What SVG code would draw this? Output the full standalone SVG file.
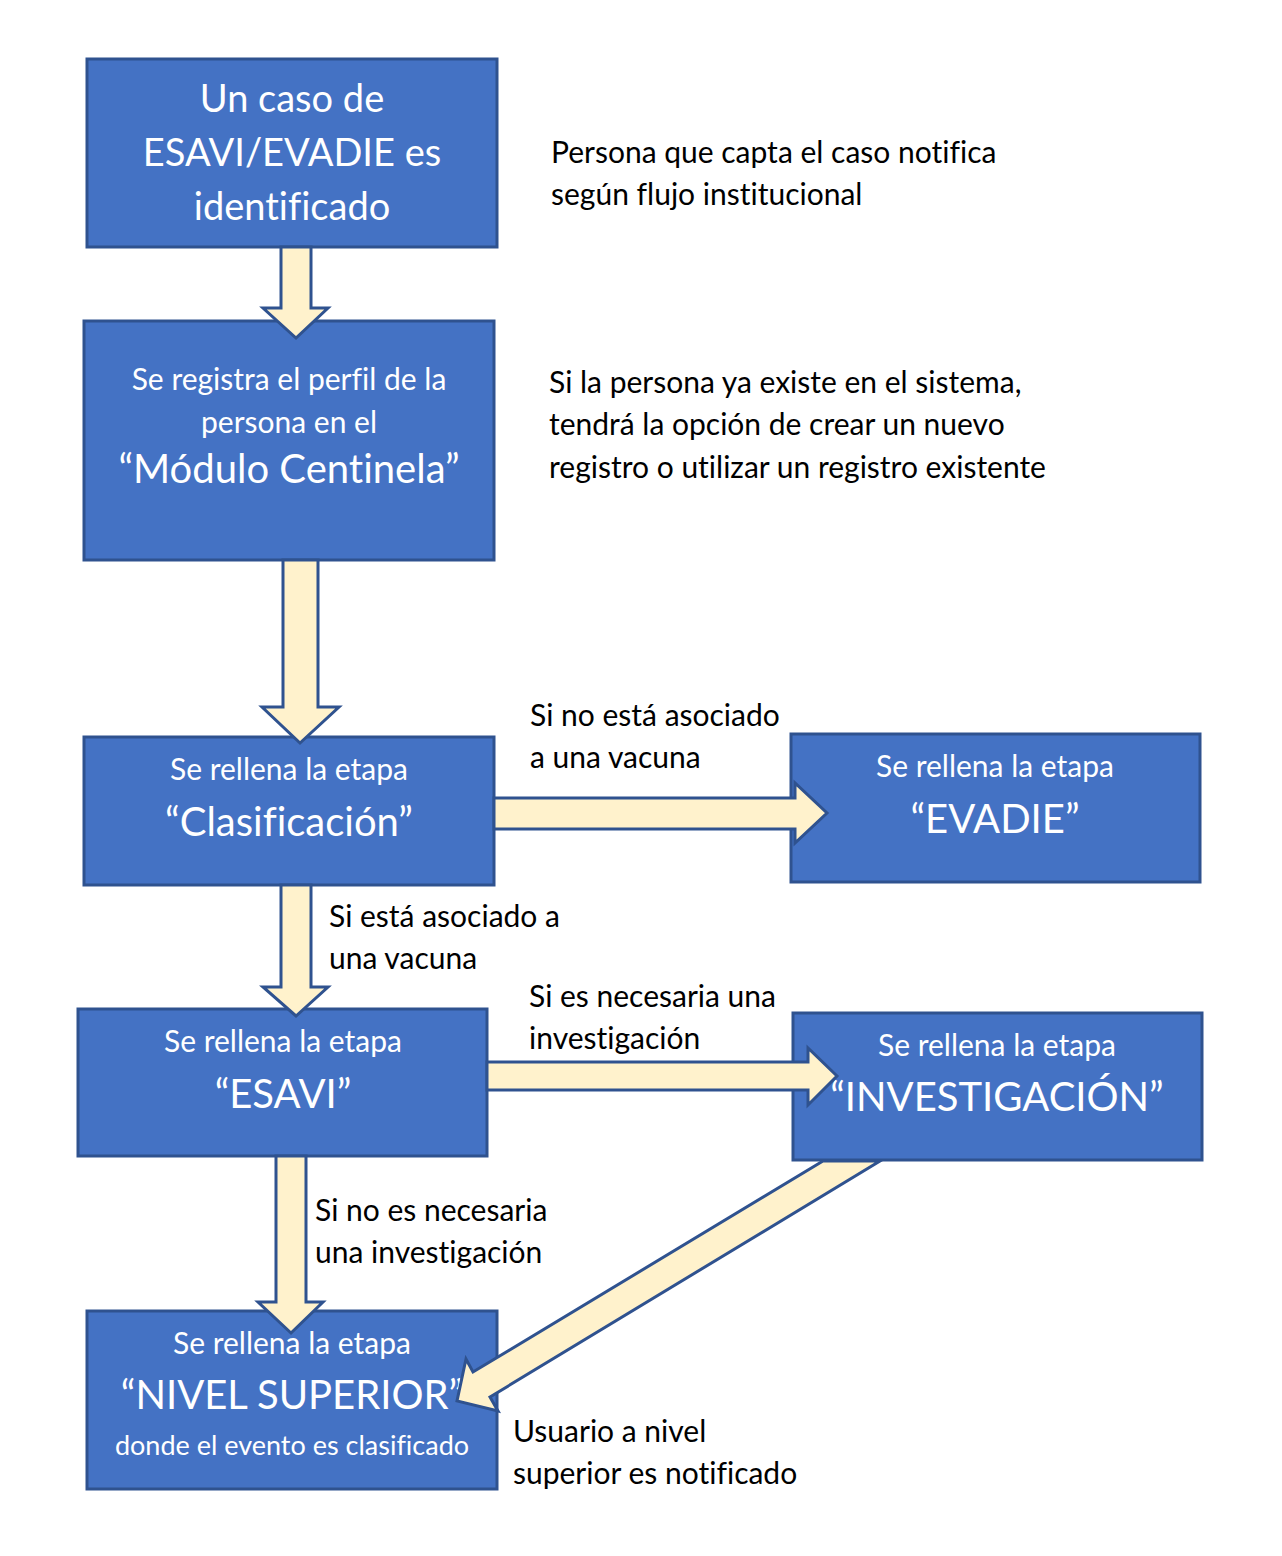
<svg xmlns="http://www.w3.org/2000/svg" width="1282" height="1556" viewBox="0 0 1282 1556">
<style>
.box{fill:#4472C4;stroke:#2F528F;stroke-width:3}
.arr{fill:#FFF2CC;stroke:#2F528F;stroke-width:3;stroke-linejoin:miter}
text{font-variant-ligatures:none;font-family:Lato,"Liberation Sans",sans-serif}
.w{fill:#FFFFFF;text-anchor:middle}
.s{font-size:30px}
.t{font-size:38px}
.l{font-size:40px}
.xs{font-size:27px}
.lab{fill:#000000;font-size:30px}
</style>
<rect width="1282" height="1556" fill="#FFFFFF"/>
<g id="n1">
<rect class="box" x="87" y="59" width="410" height="188"/>
<text class="w t" x="292" y="112">Un caso de</text>
<text class="w t" x="292" y="166">ESAVI/EVADIE es</text>
<text class="w t" x="292" y="220">identificado</text>
</g>
<g id="n2">
<rect class="box" x="84" y="321" width="410" height="239"/>
<text class="w s" x="289" y="390">Se registra el perfil de la</text>
<text class="w s" x="289" y="433">persona en el</text>
<text class="w l" x="289" y="483">“Módulo Centinela”</text>
</g>
<g id="n3">
<rect class="box" x="84" y="737" width="410" height="148"/>
<text class="w s" x="289" y="780">Se rellena la etapa</text>
<text class="w l" x="289" y="836">“Clasificación”</text>
</g>
<g id="n4">
<rect class="box" x="791" y="734" width="409" height="148"/>
<text class="w s" x="995" y="777">Se rellena la etapa</text>
<text class="w l" x="995" y="833">“EVADIE”</text>
</g>
<g id="n5">
<rect class="box" x="78" y="1009" width="409" height="147"/>
<text class="w s" x="283" y="1052">Se rellena la etapa</text>
<text class="w l" x="283" y="1108">“ESAVI”</text>
</g>
<g id="n6">
<rect class="box" x="793" y="1013" width="409" height="147"/>
<text class="w s" x="997" y="1056">Se rellena la etapa</text>
<text class="w l" x="997" y="1111">“INVESTIGACIÓN”</text>
</g>
<g id="n7">
<rect class="box" x="87" y="1311" width="410" height="178"/>
<text class="w s" x="292" y="1354">Se rellena la etapa</text>
<text class="w l" x="292" y="1409">“NIVEL SUPERIOR”</text>
<text class="w xs" x="292" y="1455">donde el evento es clasificado</text>
</g>
<g id="labels">
<text class="lab" x="551" y="163">Persona que capta el caso notifica</text>
<text class="lab" x="551" y="205">según flujo institucional</text>
<text class="lab" x="549" y="393">Si la persona ya existe en el sistema,</text>
<text class="lab" x="549" y="435">tendrá la opción de crear un nuevo</text>
<text class="lab" x="549" y="478">registro o utilizar un registro existente</text>
<text class="lab" x="530" y="726">Si no está asociado</text>
<text class="lab" x="530" y="768">a una vacuna</text>
<text class="lab" x="329" y="927">Si está asociado a</text>
<text class="lab" x="329" y="969">una vacuna</text>
<text class="lab" x="529" y="1007">Si es necesaria una</text>
<text class="lab" x="529" y="1049">investigación</text>
<text class="lab" x="315" y="1221">Si no es necesaria</text>
<text class="lab" x="315" y="1263">una investigación</text>
<text class="lab" x="513" y="1442">Usuario a nivel</text>
<text class="lab" x="513" y="1484">superior es notificado</text>
</g>
<g id="connectors">
<polygon class="arr" points="281,247 311,247 311,308 328,308 296,338 263,308 281,308"/>
<polygon class="arr" points="283,560 318,560 318,707 339,707 300,743 262,707 283,707"/>
<polygon class="arr" points="494,798 795,798 795,783 827,813 795,843 795,829 494,829"/>
<polygon class="arr" points="281,885 311,885 311,987 328,987 296,1016 263,987 281,987"/>
<polygon class="arr" points="487,1062 808,1062 808,1048 837,1076 808,1105 808,1090 487,1090"/>
<polygon class="arr" points="276,1156 306,1156 306,1302 323,1302 291,1333 258,1302 276,1302"/>
<polygon class="arr" points="823,1161 880,1161 490,1397 498,1411 457,1401 466,1359 473,1372"/>
</g>
</svg>
